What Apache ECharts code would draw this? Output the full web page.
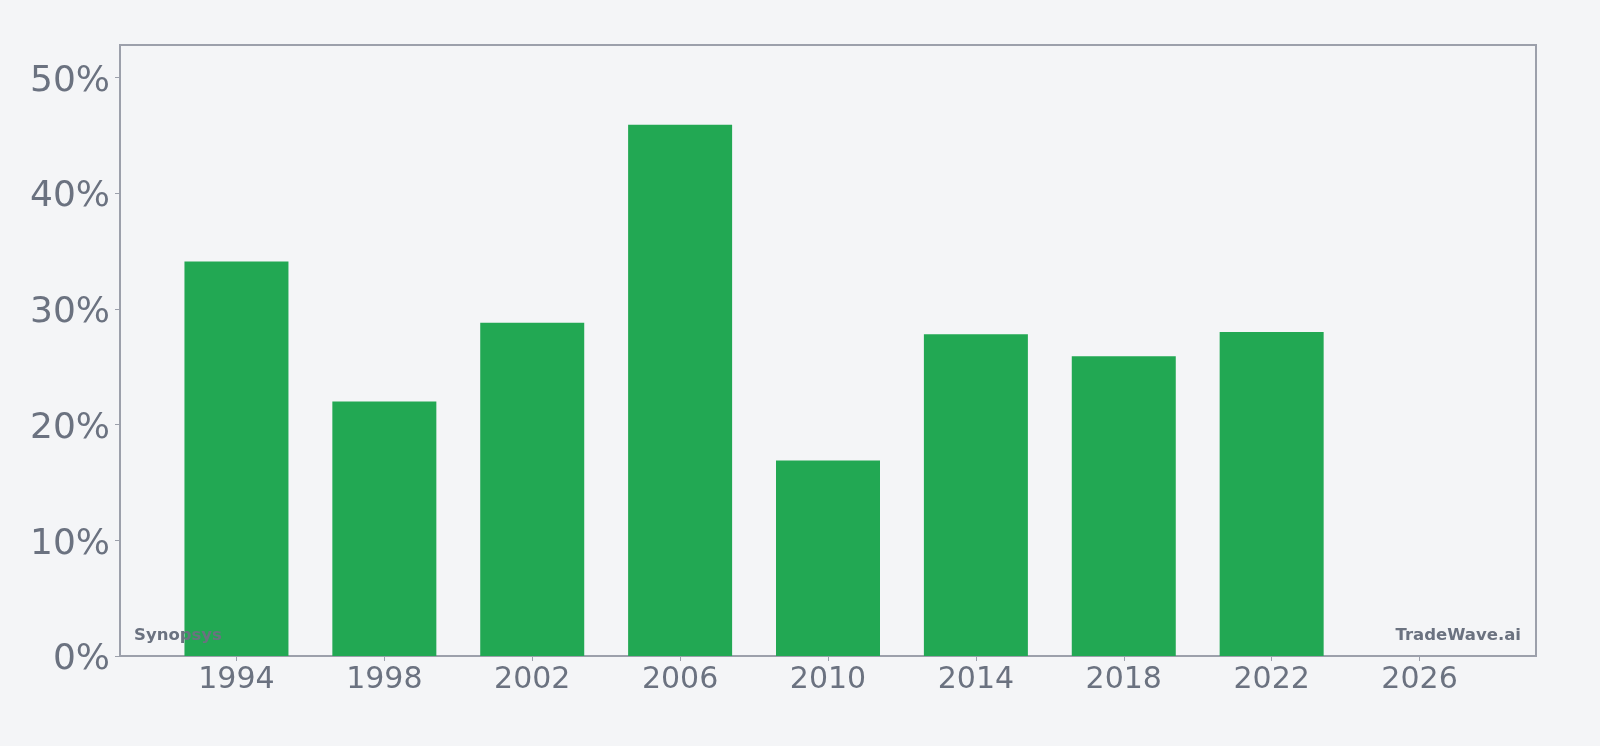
<!DOCTYPE html>
<html>
<head>
<meta charset="utf-8">
<script src="https://cdn.jsdelivr.net/npm/echarts@6/dist/echarts.min.js"></script>
<style>
    html, body { margin: 0; padding: 0; background: #f4f5f7; }
    #myChart { width: 1600px; height: 746px; }
</style>
</head>
<body>
<div id="myChart"></div>
<script>
const years = [1994, 1998, 2002, 2006, 2010, 2014, 2018, 2022];
const shares = [34.1, 22.0, 28.8, 45.9, 16.9, 27.8, 25.9, 28.0];
const yearTicks = [1994, 1998, 2002, 2006, 2010, 2014, 2018, 2022, 2026];

const textColor = '#6b7280';
const lineColor = '#9ca0ab';

const myChart = echarts.init(document.getElementById('myChart'));
const option = {
    backgroundColor: '#f4f5f7',
    animation: false,
    grid: {
        left: 120,
        right: 64,
        top: 45,
        bottom: 90,
        show: true,
        borderColor: lineColor,
        borderWidth: 2,
        backgroundColor: 'transparent'
    },
    xAxis: {
        type: 'value',
        min: 1990.85,
        max: 2029.15,
        splitLine: { show: false },
        axisLine: { show: true, lineStyle: { color: lineColor, width: 2 } },
        axisTick: {
            show: true,
            length: 5,
            customValues: yearTicks,
            lineStyle: { color: lineColor }
        },
        axisLabel: {
            customValues: yearTicks,
            color: textColor,
            fontSize: 30,
            fontFamily: 'DejaVu Sans',
            margin: 9,
            formatter: v => String(v)
        }
    },
    yAxis: {
        type: 'value',
        min: 0,
        max: 52.8,
        interval: 10,
        splitLine: { show: false },
        axisLine: { show: true, lineStyle: { color: lineColor, width: 2 } },
        axisTick: { show: true, length: 5, lineStyle: { color: lineColor } },
        axisLabel: {
            color: textColor,
            fontSize: 36,
            fontFamily: 'DejaVu Sans',
            margin: 10,
            showMaxLabel: false,
            formatter: v => '{p|' + v + '%}',
            rich: {
                p: {
                    color: textColor,
                    fontSize: 36,
                    fontFamily: 'DejaVu Sans',
                    padding: [8, 0, 0, 0]
                }
            }
        }
    },
    series: [{
        type: 'bar',
        data: years.map((y, i) => [y, shares[i]]),
        barWidth: 104,
        itemStyle: { color: '#22a853' }
    }],
    graphic: [
        {
            type: 'text',
            left: 134,
            top: 627,
            z: 100,
            style: {
                text: 'Synopsys',
                fill: textColor,
                font: 'bold 16.5px "DejaVu Sans"'
            }
        },
        {
            type: 'text',
            right: 79,
            top: 627,
            z: 100,
            style: {
                text: 'TradeWave.ai',
                fill: textColor,
                font: 'bold 16.5px "DejaVu Sans"'
            }
        }
    ]
};
myChart.setOption(option);
</script>
</body>
</html>
